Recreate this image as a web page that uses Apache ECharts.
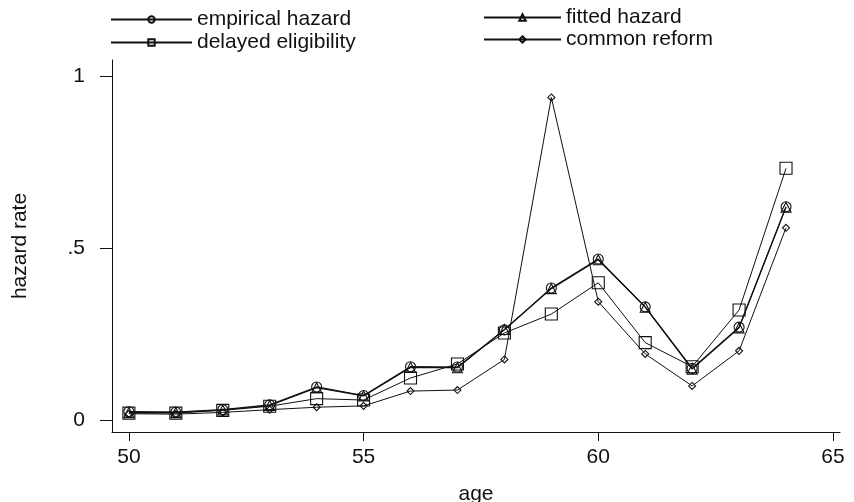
<!DOCTYPE html>
<html>
<head>
<meta charset="utf-8">
<script src="https://cdn.jsdelivr.net/npm/echarts@6/dist/echarts.min.js"></script>
<style>
  html, body { margin: 0; padding: 0; background: #fff; }
  #chart { width: 854px; height: 502px; }
</style>
</head>
<body>
<div id="chart"></div>
<script>
// Retirement hazard by age
const ages = [50, 51, 52, 53, 54, 55, 56, 57, 58, 59, 60, 61, 62, 63, 64];
const empiricalHazard = [0.024, 0.023, 0.030, 0.044, 0.096, 0.071, 0.155, 0.154, 0.262, 0.384, 0.468, 0.329, 0.150, 0.270, 0.620];
const fittedHazard    = [0.022, 0.022, 0.029, 0.042, 0.094, 0.070, 0.153, 0.152, 0.263, 0.382, 0.466, 0.328, 0.148, 0.268, 0.619];
const delayedElig     = [0.020, 0.020, 0.028, 0.040, 0.062, 0.058, 0.122, 0.163, 0.253, 0.308, 0.399, 0.225, 0.155, 0.320, 0.732];
const commonReform    = [0.018, 0.017, 0.022, 0.030, 0.037, 0.041, 0.084, 0.087, 0.176, 0.938, 0.344, 0.192, 0.099, 0.201, 0.559];
const xTicks = [50, 55, 60, 65];
const yTicks = [0, 0.5, 1];

const FONT = 'Liberation Sans, Arial, sans-serif';
const INK = '#111';
const FS = 21;

function pairs(vals) { return ages.map((a, i) => [a, vals[i]]); }

function mkSeries(name, vals, symbol, size, width) {
  return {
    name, type: 'line', data: pairs(vals),
    symbol, symbolSize: size, showSymbol: true,
    lineStyle: { color: INK, width: width },
    itemStyle: { color: 'rgba(255,255,255,0)', borderColor: INK, borderWidth: 1.1 },
    emphasis: { disabled: true },
    animation: false, z: 2
  };
}

const legendText = { fontFamily: FONT, fontSize: FS, color: INK, lineHeight: 21 };

const chart = echarts.init(document.getElementById('chart'), null, { renderer: 'canvas' });
chart.setOption({
  backgroundColor: '#fff',
  animation: false,
  grid: { left: 112, right: 14, top: 60, bottom: 70, containLabel: false, outerBoundsMode: 'none' },
  legend: [
    { data: ['empirical hazard', 'delayed eligibility'], orient: 'vertical', left: 110, top: 9, padding: 0,
      itemWidth: 81, itemHeight: 8, itemGap: 2, textStyle: legendText, selectedMode: false },
    { data: ['fitted hazard', 'common reform'], orient: 'vertical', left: 483, top: 7, padding: 0,
      itemWidth: 77, itemHeight: 8, itemGap: 1, textStyle: legendText, selectedMode: false }
  ],
  xAxis: {
    type: 'value', min: 49.64, max: 65.15,
    name: 'age', nameLocation: 'middle', nameGap: 52,
    nameTextStyle: { fontFamily: FONT, fontSize: FS, color: INK },
    axisLine: { show: true, onZero: false, lineStyle: { color: INK, width: 1 } },
    axisTick: { show: true, length: 9, customValues: xTicks, lineStyle: { color: INK } },
    axisLabel: { customValues: xTicks, fontFamily: FONT, fontSize: FS, color: INK, margin: 15 },
    splitLine: { show: false }
  },
  yAxis: {
    type: 'value', min: -0.035, max: 1.047,
    name: 'hazard rate', nameLocation: 'middle', nameGap: 81, nameRotate: 90,
    nameTextStyle: { fontFamily: FONT, fontSize: FS, color: INK },
    axisLine: { show: true, onZero: false, lineStyle: { color: INK, width: 1 } },
    axisTick: { show: true, length: 12, customValues: yTicks, lineStyle: { color: INK } },
    axisLabel: {
      customValues: yTicks, fontFamily: FONT, fontSize: FS, color: INK, margin: 27,
      formatter: v => (v === 0 ? '0' : v === 1 ? '1' : String(v).replace(/^0/, ''))
    },
    splitLine: { show: false }
  },
  series: [
    mkSeries('empirical hazard', empiricalHazard, 'circle', 10, 1.2),
    mkSeries('fitted hazard', fittedHazard, 'triangle', 10, 1.2),
    mkSeries('delayed eligibility', delayedElig, 'rect', 12, 1),
    mkSeries('common reform', commonReform, 'diamond', 7, 1)
  ]
});
</script>
</body>
</html>
